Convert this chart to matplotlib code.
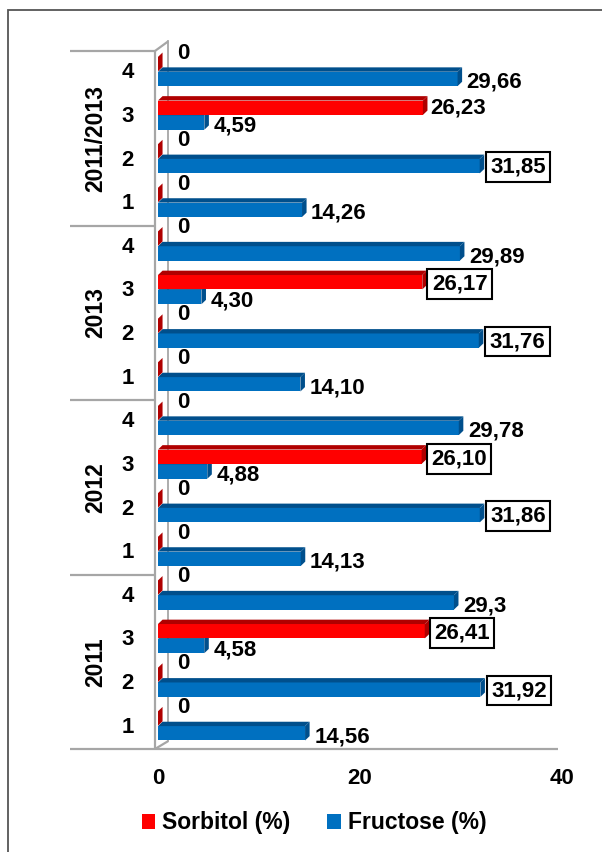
import matplotlib.pyplot as plt
from matplotlib.patches import Rectangle, Polygon, Patch

plt.rcParams['font.family'] = ['Liberation Sans', 'DejaVu Sans']
plt.rcParams['font.weight'] = 'bold'

# groups bottom -> top, categories 1..4 inside each
years = ['2011', '2012', '2013', '2011/2013']
cats = ['1', '2', '3', '4']
sorbitol = ['0', '0', '26,41', '0',
            '0', '0', '26,10', '0',
            '0', '0', '26,17', '0',
            '0', '0', '26,23', '0']
fructose = ['14,56', '31,92', '4,58', '29,3',
            '14,13', '31,86', '4,88', '29,78',
            '14,10', '31,76', '4,30', '29,89',
            '14,26', '31,85', '4,59', '29,66']
# labels shown inside a box in the original
sorb_boxed = [0, 0, 1, 0, 0, 0, 1, 0, 0, 0, 1, 0, 0, 0, 0, 0]
fruc_boxed = [0, 1, 0, 0, 0, 1, 0, 0, 0, 1, 0, 0, 0, 1, 0, 0]

RED, RED_D = '#FF0000', '#B00000'
BLUE, BLUE_D = '#0070C0', '#004F8C'
GREY = '#A6A6A6'

def num(s):
    return float(s.replace(',', '.'))

def bar3d(ax, yc, value, h, color, dark, z, dx=0.45, dy=0.1):
    y0, y1 = yc - h / 2, yc + h / 2
    ax.add_patch(Rectangle((0, y0), value, h, fc=color, ec='none', zorder=z))
    ax.add_patch(Polygon([(0, y1), (value, y1), (value + dx, y1 + dy), (dx, y1 + dy)],
                         closed=True, fc=dark, ec='none', zorder=z))
    ax.add_patch(Polygon([(value, y0), (value + dx, y0 + dy), (value + dx, y1 + dy), (value, y1)],
                         closed=True, fc=dark, ec='none', zorder=z))

fig = plt.figure(figsize=(6.02, 8.52), dpi=100)
W, H = 602, 852
ax = fig.add_axes([158 / W, 1 - 749 / H, 404 / W, 698 / H])
ax.set_xlim(0, 40)
ax.set_ylim(-0.5, 15.5)
ax.patch.set_visible(False)
for s in ax.spines.values():
    s.set_visible(False)
ax.set_yticks([])
ax.set_xticks([0, 20, 40])
ax.tick_params(axis='x', length=0, pad=14, labelsize=16)

h = 0.33
for i in range(16):
    sv, fv = num(sorbitol[i]), num(fructose[i])
    yr, yb = i + 0.2, i - 0.14
    bar3d(ax, yb, fv, h, BLUE, BLUE_D, 3)
    bar3d(ax, yr, sv, h, RED, RED_D, 4)
    # sorbitol label
    if sv == 0:
        ax.text(1.9, yr + 0.25, sorbitol[i], fontsize=16, ha='left', va='center', zorder=5)
    elif sorb_boxed[i]:
        ax.text(sv + 0.95, yr - 0.05, sorbitol[i], fontsize=16, ha='left', va='center', zorder=6,
                bbox=dict(boxstyle='square,pad=0.2', fc='white', ec='black', lw=1.5))
    else:
        ax.text(sv + 0.7, yr, sorbitol[i], fontsize=16, ha='left', va='center', zorder=5)
    # fructose label
    if fruc_boxed[i]:
        ax.text(fv + 1.05, yb - 0.02, fructose[i], fontsize=16, ha='left', va='center', zorder=6,
                bbox=dict(boxstyle='square,pad=0.2', fc='white', ec='black', lw=1.5))
    else:
        ax.text(fv + 0.9, yb - 0.08, fructose[i], fontsize=16, ha='left', va='center', zorder=5)
    ax.text(-3.0, i, cats[i % 4], fontsize=16, ha='center', va='center')

for g, yname in enumerate(years):
    ax.text(-6.2, g * 4 + 1.5, yname, fontsize=16.5, rotation=90, ha='center', va='center')

# walls / separators
kw = dict(color=GREY, lw=1.6, clip_on=False, solid_capstyle='butt')
ax.plot([-8.7, 39.6], [-0.5, -0.5], **kw)
for yy in [3.5, 7.5, 11.5, 15.5]:
    ax.plot([-8.7, -0.3], [yy, yy], **kw)
ax.plot([-0.3, -0.3], [-0.5, 15.5], **kw)
ax.plot([1.0, 1.0], [-0.32, 15.72], color=GREY, lw=1.3, clip_on=False, zorder=1)
ax.plot([-0.3, 1.0], [15.5, 15.72], **kw)
ax.plot([-0.3, 1.0], [-0.5, -0.32], **kw)

# legend
handles = [Patch(fc=RED, ec='none', label='Sorbitol (%)'),
           Patch(fc=BLUE, ec='none', label='Fructose (%)')]
fig.legend(handles=handles, loc='center', bbox_to_anchor=(314 / W, 1 - 823 / H), ncol=2,
           frameon=False, fontsize=16.5, handlelength=0.6, handleheight=0.6,
           handletextpad=0.3, columnspacing=1.6)

# outer frame (only left/top visible in crop)
fig.add_artist(Rectangle((8 / W, -0.1), 1.2, 1 - 10 / H + 0.1, transform=fig.transFigure,
                         fill=False, ec='#555555', lw=1.3))

fig.savefig('out.png', dpi=100)
